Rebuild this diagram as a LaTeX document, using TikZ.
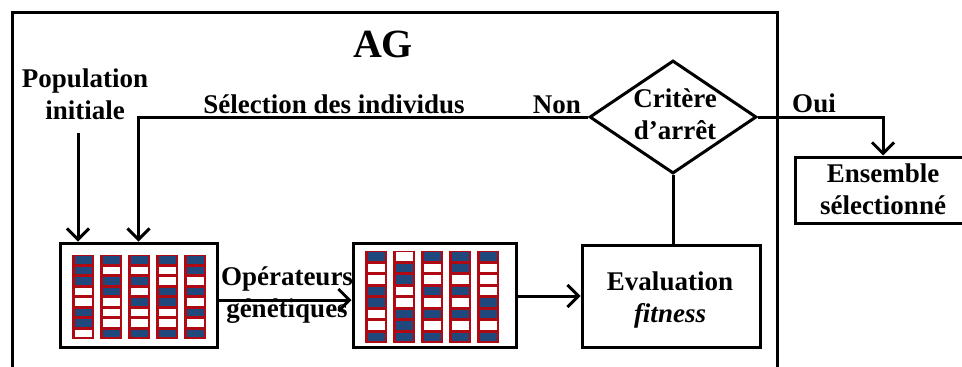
\documentclass[tikz,border=0pt]{standalone}
\usepackage{fontspec}
\setmainfont{Liberation Serif}
\usetikzlibrary{arrows.meta,shapes.geometric}

\definecolor{cred}{RGB}{175,10,20}
\definecolor{cblue}{RGB}{31,73,125}

% Five chromosomes drawn as red bars of eight genes (1 = blue gene, 0 = white gene)
% #1 left x, #2 top y, #3 gene height, #4 list of gene patterns
\newcommand\chromosomes[4]{%
  \foreach \pat [count=\ci from 0] in {#4} {
    \fill[cred] (#1+\ci*28, #2) rectangle ++(21.5, 8*#3);
    \foreach \v [count=\ri from 0] in \pat {
      \ifnum\v=1 \def\genecol{cblue}\else\def\genecol{white}\fi
      \fill[\genecol] (#1+\ci*28+2.3, #2+\ri*#3+1.3) rectangle ++(16.9, #3-2.6);
    }
  }}

\tikzset{
  lbl/.style={font=\bfseries\fontsize{27}{32}\selectfont, inner sep=0pt, align=center, anchor=base},
  stage/.style={draw, line width=3pt, rectangle, inner sep=0pt},
  flow/.style={line width=3pt},
  arr/.style={flow, -{Straight Barb[length=11pt,width=22pt]}},
}

\begin{document}
\begin{tikzpicture}[x=1pt, y=-1pt]
\useasboundingbox (0,0) rectangle (962,367);

% algorithm frame, open at the bottom
\draw[flow] (12,380) -- (12,12) -- (777,12) -- (777,380);
\node[lbl, font=\bfseries\fontsize{40}{44}\selectfont] (title) at (383,57) {AG};

% population boxes and evaluation
\node[stage, minimum width=157pt, minimum height=104pt] (pop1) at (138.5,295) {};
\node[stage, minimum width=163pt, minimum height=104pt] (pop2) at (434.5,295) {};
\node[stage, minimum width=178pt, minimum height=102pt] (eval) at (671,296) {};
% multi-line labels are anchored on the baseline of their last line
\node[lbl] (evaltxt) at (670,322) {Evaluation\\\itshape fitness};

\chromosomes{72.3}{254.7}{10.5}{{1,1,1,0,0,1,1,0},{1,0,1,1,0,0,0,1},{1,0,1,0,1,0,0,1},{1,0,0,1,1,0,0,1},{1,1,0,1,0,1,0,1}}
\chromosomes{365.3}{250.7}{11.5}{{1,0,0,1,1,0,0,1},{0,1,1,0,0,1,1,1},{1,0,0,1,0,1,0,1},{1,1,0,1,0,1,0,1},{1,0,0,0,1,1,0,1}}

% stopping criterion
\node[draw, line width=3pt, diamond, minimum width=167pt, minimum height=113pt, inner sep=0pt] (stop) at (673,117) {};
\node[lbl] (stoptxt) at (675,139) {Critère\\d’arrêt};

% selected set (runs past the right edge)
\node[stage, minimum width=176pt, minimum height=66pt] (result) at (883,190) {};
\node[lbl] (resulttxt) at (883,214) {Ensemble\\sélectionné};

% labels
\node[lbl] (poptxt) at (85,119) {Population\\initiale};
\coordinate (popin) at (78,133);
\node[lbl] (seltxt) at (334,113) {Sélection des individus};
\node[lbl] (non) at (557,113) {Non};
\node[lbl] (oui) at (814,112) {Oui};
\node[lbl] (optxt) at (287,317) {Opérateurs\\génétiques};

% connectors
\draw[arr] (popin) -- (popin |- pop1.north);
\draw[arr] (stop.west) -| (pop1.north);
\draw[arr] ([yshift=-5pt]pop1.east) -- ([yshift=-5pt]pop1.east -| pop2.west);
\draw[arr] ([yshift=-1pt]pop2.east) -- ([yshift=-1pt]pop2.east -| eval.west);
\draw[flow] (stop.south) -- (stop.south |- eval.north);
\draw[arr] (stop.east) -| (result.north);
\end{tikzpicture}
\end{document}
